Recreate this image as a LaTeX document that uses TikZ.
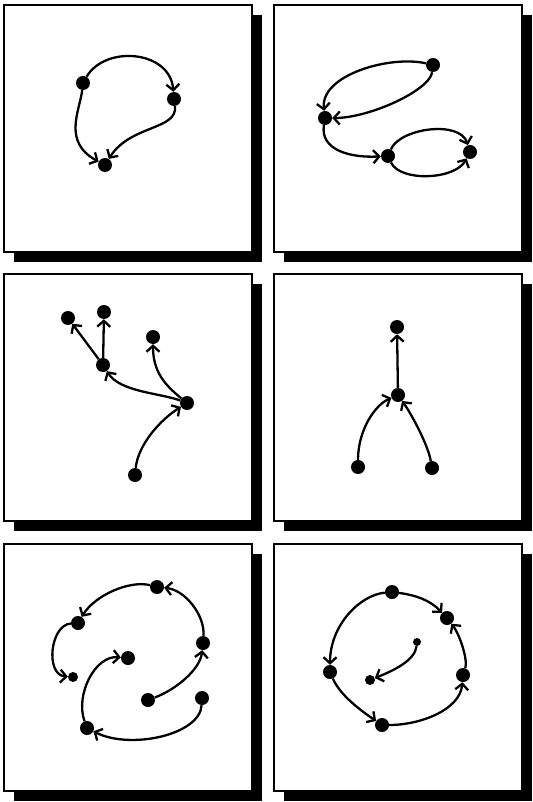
\documentclass[tikz,border=0pt]{standalone}
\usetikzlibrary{arrows.meta}
\begin{document}
\begin{tikzpicture}[x=1pt,y=-1pt,
  dot/.style={circle,fill=black,inner sep=0pt,minimum size=14pt},
  sdot/.style={circle,fill=black,inner sep=0pt,minimum size=10pt},
  arc/.style={line width=2.3pt,-{Straight Barb[length=6pt,width=13pt]}},
  frame/.style={draw=black,fill=white,line width=2pt},
  shadowbox/.style={fill=black}]
\useasboundingbox (0,0) rectangle (532,802);
\fill[white] (0,0) rectangle (532,802);
% panels with drop shadows
\foreach \px/\py in {4/5, 274/5, 4/274, 274/274, 4/544, 274/544} {
  \fill[shadowbox] (\px+10,\py+10) rectangle (\px+258,\py+257);
  \draw[frame] (\px,\py) rectangle (\px+248,\py+247);
}
% ---------- panel 1 ----------
\node[dot] (a1) at (83,83) {};
\node[dot] (b1) at (174,99) {};
\node[dot] (c1) at (105,165) {};
\draw[arc] (a1) .. controls (105,45) and (170,50) .. (b1);
\draw[arc] (a1) .. controls (80,110) and (62,142) .. (c1);
\draw[arc] (b1) .. controls (178,130) and (130,125) .. (c1);
% ---------- panel 2 ----------
\node[dot] (d2) at (433,65) {};
\node[dot] (e2) at (325,118) {};
\node[dot] (f2) at (388,156) {};
\node[dot] (g2) at (470,152) {};
\draw[arc] (d2) .. controls (390,55) and (320,75) .. (e2);
\draw[arc] (d2) .. controls (430,90) and (370,118) .. (e2);
\draw[arc] (e2) .. controls (320,150) and (350,158) .. (f2);
\draw[arc] (f2) .. controls (400,128) and (460,120) .. (g2);
\draw[arc] (f2) .. controls (400,182) and (455,180) .. (g2);
% ---------- panel 3 ----------
\node[dot] (h3) at (68,318) {};
\node[dot] (i3) at (104,312) {};
\node[dot] (j3) at (153,337) {};
\node[dot] (k3) at (103,365) {};
\node[dot] (l3) at (187,403) {};
\node[dot] (m3) at (135,475) {};
\draw[arc] (k3) -- (h3);
\draw[arc] (k3) -- (i3);
\draw[arc] (l3) .. controls (160,393) and (120,392) .. (k3);
\draw[arc] (l3) .. controls (165,385) and (153,372) .. (j3);
\draw[arc] (m3) .. controls (138,445) and (160,420) .. (l3);
% ---------- panel 4 ----------
\node[dot] (n4) at (397,327) {};
\node[dot] (o4) at (398,395) {};
\node[dot] (p4) at (358,467) {};
\node[dot] (q4) at (432,468) {};
\draw[arc] (o4) -- (n4);
\draw[arc] (p4) .. controls (358,430) and (375,405) .. (o4);
\draw[arc] (q4) .. controls (428,445) and (412,415) .. (o4);
% ---------- panel 5 ----------
\node[dot] (r5) at (157,587) {};
\node[dot] (s5) at (78,623) {};
\node[dot] (t5) at (203,643) {};
\node[dot] (u5) at (128,658) {};
\node[sdot] (v5) at (73,677) {};
\node[dot] (w5) at (148,700) {};
\node[dot] (x5) at (202,698) {};
\node[dot] (y5) at (87,728) {};
\draw[arc] (r5) .. controls (130,580) and (95,595) .. (s5);
\draw[arc] (t5) .. controls (205,615) and (185,590) .. (r5);
\draw[arc] (s5) .. controls (50,625) and (45,675) .. (v5);
\draw[arc] (w5) .. controls (175,690) and (200,670) .. (t5);
\draw[arc] (x5) .. controls (200,735) and (130,750) .. (y5);
\draw[arc] (y5) .. controls (75,695) and (95,655) .. (u5);
% ---------- panel 6 ----------
\node[dot] (z1) at (392,592) {};
\node[dot] (z2) at (447,618) {};
\node[circle,fill=black,inner sep=0pt,minimum size=8pt] (z3) at (417,642) {};
\node[dot] (z4) at (463,675) {};
\node[dot] (z5) at (330,672) {};
\node[sdot] (z6) at (370,680) {};
\node[dot] (z7) at (382,725) {};
\draw[arc] (z1) .. controls (415,595) and (430,600) .. (z2);
\draw[arc] (z4) .. controls (468,660) and (460,635) .. (z2);
\draw[arc] (z1) .. controls (360,595) and (330,625) .. (z5);
\draw[arc] (z5) .. controls (340,695) and (360,710) .. (z7);
\draw[arc] (z7) .. controls (420,725) and (460,710) .. (z4);
\draw[arc] (z3) .. controls (415,660) and (395,670) .. (z6);
\end{tikzpicture}
\end{document}
